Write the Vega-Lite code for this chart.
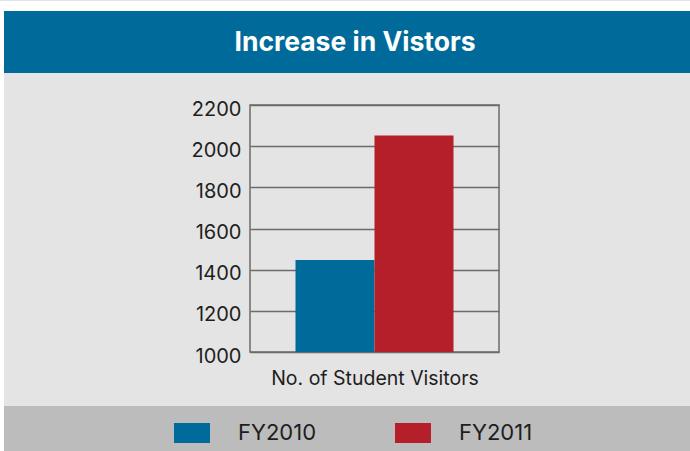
{
  "$schema": "https://vega.github.io/schema/vega-lite/v6.json",
  "background": "#e4e4e4",
  "padding": 0,
  "autosize": {"type": "pad"},
  "bounds": "flush",
  "spacing": 0,
  "columns": 3,
  "resolve": {"scale": {"color": "independent"}, "legend": {"color": "independent"}},
  "config": {"view": {"stroke": null}, "font": "Inter"},
  "datasets": {
    "visitors": [
      {"series": "FY2010", "visitors": 1447},
      {"series": "FY2011", "visitors": 2052}
    ],
    "blank": [{}]
  },
  "concat": [
    {"width": 4, "height": 10, "view": {"fill": "#ffffff"}, "data": {"name": "blank"}, "mark": {"type": "text", "text": ""}},
    {"width": 246, "height": 10, "view": {"fill": "#ffffff"}, "data": {"name": "blank"}, "mark": {"type": "text", "text": ""}},
    {"width": 440, "height": 10, "view": {"fill": "#ffffff"}, "data": {"name": "blank"}, "mark": {"type": "text", "text": ""}},

    {"width": 4, "height": 62, "view": {"fill": "#ffffff"}, "data": {"name": "blank"}, "mark": {"type": "text", "text": ""}},
    {"width": 246, "height": 62, "view": {"fill": "#006b9a"}, "data": {"name": "blank"}, "mark": {"type": "text", "text": ""}},
    {
      "width": 440, "height": 62,
      "view": {"fill": "#006b9a"},
      "data": {"values": [{"title": "Increase in Vistors"}]},
      "mark": {"type": "text", "font": "Inter", "fontWeight": "bold", "fontSize": 26.5, "color": "#ffffff", "baseline": "middle", "align": "center", "dx": -115, "dy": 1},
      "encoding": {"text": {"field": "title", "type": "nominal"}}
    },

    {"width": 4, "height": 32, "view": {"fill": "#ffffff"}, "data": {"name": "blank"}, "mark": {"type": "text", "text": ""}},
    {"width": 246, "height": 32, "data": {"name": "blank"}, "mark": {"type": "text", "text": ""}},
    {"width": 440, "height": 32, "data": {"name": "blank"}, "mark": {"type": "text", "text": ""}},

    {"width": 4, "height": 247, "view": {"fill": "#ffffff"}, "data": {"name": "blank"}, "mark": {"type": "text", "text": ""}},
    {"width": 246, "height": 247, "data": {"name": "blank"}, "mark": {"type": "text", "text": ""}},
    {
      "width": 249, "height": 247,
      "data": {"name": "visitors"},
      "view": {"stroke": "#6b6b6b", "strokeWidth": 1.5},
      "mark": {"type": "bar"},
      "encoding": {
        "x": {
          "field": "series", "type": "nominal",
          "scale": {"paddingInner": 0, "paddingOuter": 0.576},
          "axis": {"labels": false, "ticks": false, "domain": false, "title": "No. of Student Visitors", "titleFontSize": 19.5, "titleFontWeight": "normal", "titleColor": "#1e1e1e", "titlePadding": 17, "titleFont": "Inter"}
        },
        "y": {
          "field": "visitors", "type": "quantitative",
          "scale": {"domain": [1000, 2200], "nice": false, "zero": false},
          "axis": {"values": [1000, 1200, 1400, 1600, 1800, 2000, 2200], "format": "d", "title": null, "domain": false, "ticks": false, "labelFontSize": 20, "labelFont": "Inter", "labelColor": "#1e1e1e", "labelPadding": 9, "labelOffset": 4, "gridColor": "#6b6b6b", "gridWidth": 1.5, "gridOpacity": 1}
        },
        "y2": {"datum": 1000},
        "color": {
          "field": "series", "type": "nominal",
          "scale": {"domain": ["FY2010", "FY2011"], "range": ["#006b9a", "#b51f2a"]},
          "legend": null
        }
      }
    },

    {"width": 4, "height": 54, "view": {"fill": "#ffffff"}, "data": {"name": "blank"}, "mark": {"type": "text", "text": ""}},
    {"width": 246, "height": 54, "data": {"name": "blank"}, "mark": {"type": "text", "text": ""}},
    {"width": 440, "height": 54, "data": {"name": "blank"}, "mark": {"type": "text", "text": ""}},

    {"width": 4, "height": 46, "view": {"fill": "#ffffff"}, "data": {"name": "blank"}, "mark": {"type": "text", "text": ""}},
    {"width": 246, "height": 46, "view": {"fill": "#bbbcbb"}, "data": {"name": "blank"}, "mark": {"type": "text", "text": ""}},
    {
      "width": 440, "height": 46,
      "view": {"fill": "#bbbcbb"},
      "data": {"name": "visitors"},
      "mark": {"type": "point", "filled": true, "size": 0},
      "encoding": {
        "color": {
          "field": "series", "type": "nominal",
          "scale": {"domain": ["FY2010", "FY2011"], "range": ["#006b9a", "#b51f2a"]},
          "legend": {"orient": "none", "legendX": -76, "legendY": 9, "direction": "horizontal", "title": null, "padding": 0, "symbolType": "M-1,-0.555L1,-0.555L1,0.555L-1,0.555Z", "symbolSize": 1296, "symbolOpacity": 1, "symbolStrokeWidth": 0, "labelFontSize": 22, "labelFont": "Inter", "labelColor": "#1e1e1e", "labelOffset": 28, "columnPadding": 78}
        }
      }
    }
  ]
}
